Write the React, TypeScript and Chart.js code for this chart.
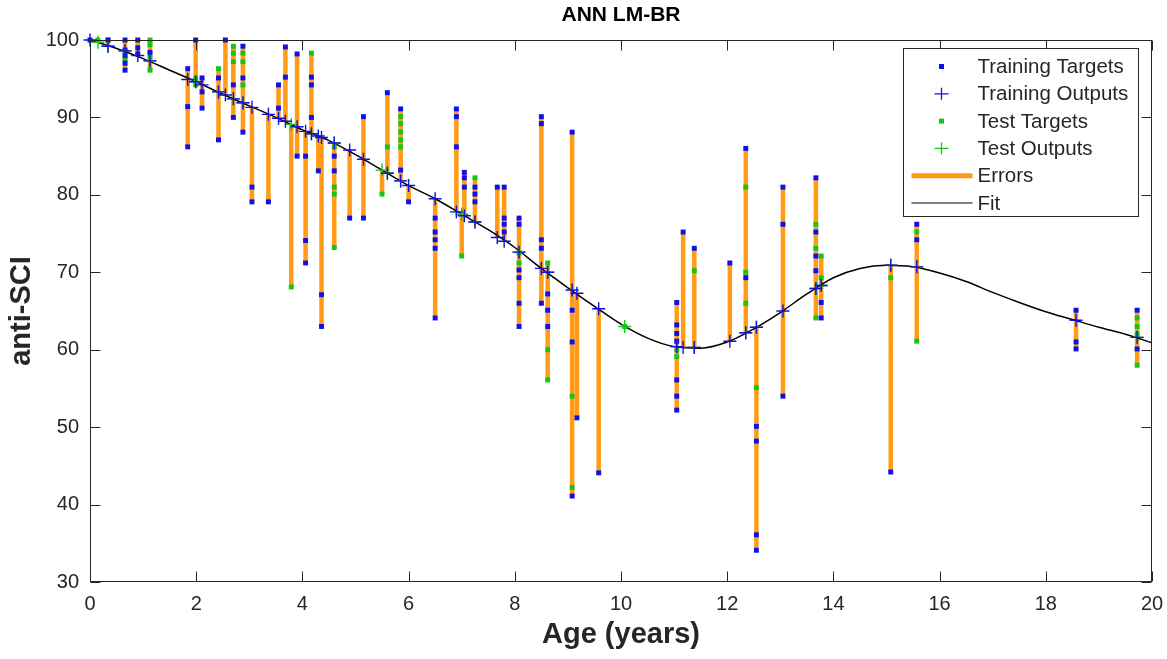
import React, { useEffect, useRef } from "react";
import { Chart, registerables } from "chart.js";

Chart.register(...registerables);

const FONT = "'Liberation Sans', Arial, Helvetica, sans-serif";

// Axis ticks
const xTicks = [0, 2, 4, 6, 8, 10, 12, 14, 16, 18, 20];
const yTicks = [30, 40, 50, 60, 70, 80, 90, 100];

// Fitted curve (age in years -> anti-SCI)
const fitAges = [0, 0.5, 1, 1.5, 2, 2.5, 3, 3.5, 4, 4.5, 5, 5.5, 6, 6.5, 7, 7.5, 8, 8.5, 9, 9.5, 10,
  10.5, 11, 11.5, 12, 12.5, 13, 13.5, 14, 14.5, 15, 15.5, 16, 16.5, 17, 17.5, 18, 18.5, 19, 19.5, 20];
const fitValues = [100, 98.9, 97.6, 96.1, 94.6, 93.0, 91.5, 90.0, 88.4, 87.0, 85.2, 83.2, 81.2, 79.5, 77.5,
  75.5, 73.2, 70.5, 68.0, 65.6, 63.3, 61.5, 60.4, 60.2, 61.0, 62.7, 64.8, 67.2, 69.3, 70.5, 70.9, 70.7,
  69.9, 68.8, 67.4, 66.1, 64.9, 63.9, 62.9, 62.0, 60.9];

// Sample groups: age, network output, training targets, test targets
const groupAges = [0.0, 0.15, 0.34, 0.66, 0.9, 1.13, 1.84, 1.99, 2.11, 2.42, 2.55, 2.7, 2.88, 3.05, 3.36,
  3.55, 3.68, 3.79, 3.9, 4.06, 4.17, 4.3, 4.36, 4.6, 4.89, 5.15, 5.5, 5.6, 5.85, 6.0, 6.5, 6.9, 7.0, 7.05,
  7.25, 7.67, 7.8, 8.08, 8.5, 8.62, 9.08, 9.17, 9.58, 10.07, 11.05, 11.17, 11.38, 12.05, 12.35, 12.55,
  13.05, 13.67, 13.77, 15.08, 15.57, 18.57, 19.72];
const groupOutputs = [100, 99.7, 99.2, 98.6, 98.0, 97.3, 94.9, 94.6, 94.2, 93.3, 92.9, 92.4, 91.9, 91.3, 90.4,
  89.9, 89.5, 89.1, 88.8, 88.2, 87.9, 87.6, 87.4, 86.7, 85.8, 84.6, 83.2, 82.8, 81.8, 81.2, 79.5, 77.8, 77.5,
  77.3, 76.5, 74.5, 74.0, 72.6, 70.5, 70.0, 67.7, 67.3, 65.3, 63.0, 60.4, 60.3, 60.3, 61.1, 62.2, 62.9,
  65.0, 67.9, 68.3, 70.9, 70.7, 63.8, 61.6];
const groupTrainTargets: number[][] = [
  [100], [], [100], [100, 98.7, 98, 97, 96.1], [100, 99, 98.2], [98.4], [96.3, 91.4, 86.2], [100],
  [95.1, 93.3, 91.2], [95.1, 87.1], [100], [94.2, 90], [99.2, 95.1, 88.1], [81, 79.1], [79.1],
  [94.2, 91.2], [99.1, 95.2], [], [98.2, 85], [85, 74.1, 71.2], [95.2, 94.2, 90], [83.1], [67.1, 63],
  [85, 83.1], [77], [90.1, 77], [], [93.2], [91.1, 83.2], [79.1], [77, 75.2, 74.2, 73.1, 64.1],
  [91.1, 90.1, 86.2], [], [82.9, 82.2, 81], [81, 80.1, 79.1], [81], [81, 77, 76.2, 75.2],
  [77, 76.2, 70.3, 69.3, 66, 63], [90.1, 89.2, 74.2, 73.1, 66], [67.2, 65.1, 63], [88.1, 65.1, 61, 41.1],
  [51.2], [44.1], [], [66.1, 63.2, 62.1, 61.1, 56.1, 54, 52.2], [75.2], [73.1], [71.2], [86, 69.3],
  [50.1, 48.2, 36.1, 34.1], [81, 76.2, 54], [82.2, 75.2, 72.1, 70.2], [66.1, 64.1], [44.2], [76.2, 74.2],
  [65.1, 61, 60.1], [65.1, 60.1],
];
const groupTestTargets: number[][] = [
  [], [100], [100], [97.6], [], [100, 99.4, 97.8, 96.1], [], [95, 94.2], [], [96.3], [], [99.2, 98.3, 97.2],
  [98.3, 97.2, 94.2], [], [], [], [], [68.1], [], [], [98.3], [], [], [86.2, 81, 80.1, 73.2], [], [], [80.1],
  [86.2], [90.1, 89.2, 88.1, 87.1, 86.2], [], [], [], [72.1], [], [82.2], [], [], [72.5, 71.2], [],
  [71.2, 60, 56.1], [54, 42.2], [], [], [63], [60, 59.1], [], [70.2], [], [81, 70, 66], [55.1], [],
  [76.2, 73.1, 64.1], [72.1, 69.3], [69.3], [75.2, 61.1], [], [64.1, 63, 62, 58],
];

const TITLE = "ANN LM-BR";
const BLUE = "rgb(16,16,232)";
const GREEN = "rgb(24,196,24)";
const ORANGE = "rgb(255,155,20)";
const AXIS = "#262626";

type Pt = { x: number; y: number | null };

const legendEntries = [
  { label: "Training Targets", kind: "square", color: BLUE },
  { label: "Training Outputs", kind: "plus", color: BLUE },
  { label: "Test Targets", kind: "square", color: GREEN },
  { label: "Test Outputs", kind: "plus", color: GREEN },
  { label: "Errors", kind: "thick", color: ORANGE },
  { label: "Fit", kind: "thin", color: "#000" },
];

const boxPlugin = {
  id: "matlabBox",
  afterDraw(chart: any) {
    const { ctx, chartArea: ca, scales } = chart;
    const xs = scales.x;
    const ys = scales.y;
    ctx.save();
    ctx.strokeStyle = AXIS;
    ctx.lineWidth = 1;
    const L = Math.round(ca.left) + 0.5;
    const R = Math.round(ca.right) - 0.5;
    const T = Math.round(ca.top) + 0.5;
    const B = Math.round(ca.bottom) - 0.5;
    ctx.strokeRect(L, T, R - L, B - T);
    const tl = 10;
    ctx.beginPath();
    xTicks.forEach((v) => {
      const px = Math.round(xs.getPixelForValue(v)) + 0.5;
      ctx.moveTo(px, B);
      ctx.lineTo(px, B - tl);
      ctx.moveTo(px, T);
      ctx.lineTo(px, T + tl);
    });
    yTicks.forEach((v) => {
      const py = Math.round(ys.getPixelForValue(v)) + 0.5;
      ctx.moveTo(L, py);
      ctx.lineTo(L + tl, py);
      ctx.moveTo(R, py);
      ctx.lineTo(R - tl, py);
    });
    ctx.stroke();

    // title centred over the axes
    ctx.fillStyle = "#000";
    ctx.font = `bold 21px ${FONT}`;
    ctx.textAlign = "center";
    ctx.textBaseline = "middle";
    ctx.fillText(TITLE, (ca.left + ca.right) / 2, 15);

    // legend box (inside axes, top-right)
    const lw = 235;
    const lh = 168;
    const lx = Math.round(ca.right) - 14 - lw + 0.5;
    const ly = Math.round(ca.top) + 8 + 0.5;
    ctx.fillStyle = "#fff";
    ctx.fillRect(lx, ly, lw, lh);
    ctx.strokeStyle = AXIS;
    ctx.lineWidth = 1;
    ctx.strokeRect(lx, ly, lw, lh);
    const rowH = 27.3;
    const mx = lx + 38;
    ctx.font = `20.5px ${FONT}`;
    ctx.textBaseline = "middle";
    ctx.textAlign = "left";
    legendEntries.forEach((e, i) => {
      const cy = ly + 18 + i * rowH;
      if (e.kind === "square") {
        ctx.fillStyle = e.color;
        ctx.fillRect(mx - 2.5, cy - 2.5, 5, 5);
      } else if (e.kind === "plus") {
        ctx.strokeStyle = e.color;
        ctx.lineWidth = 1.3;
        ctx.beginPath();
        ctx.moveTo(mx - 7, cy);
        ctx.lineTo(mx + 7, cy);
        ctx.moveTo(mx, cy - 6);
        ctx.lineTo(mx, cy + 6);
        ctx.stroke();
      } else {
        ctx.strokeStyle = e.color;
        ctx.lineWidth = e.kind === "thick" ? 5 : 1.2;
        ctx.beginPath();
        ctx.moveTo(lx + 8, cy);
        ctx.lineTo(lx + 69, cy);
        ctx.stroke();
      }
      ctx.fillStyle = AXIS;
      ctx.fillText(e.label, lx + 74, cy + 1);
    });
    ctx.restore();
  },
};

export default function App() {
  const ref = useRef<HTMLCanvasElement>(null);

  useEffect(() => {
    document.body.style.margin = "0";
    const trainTargetPts: Pt[] = [];
    const testTargetPts: Pt[] = [];
    const trainOutPts: Pt[] = [];
    const testOutPts: Pt[] = [];
    const errorPts: Pt[] = [];
    groupAges.forEach((a, i) => {
      const o = groupOutputs[i];
      groupTrainTargets[i].forEach((t) => {
        trainTargetPts.push({ x: a, y: t });
        errorPts.push({ x: a, y: o }, { x: a, y: t }, { x: a, y: null });
      });
      groupTestTargets[i].forEach((t) => {
        testTargetPts.push({ x: a, y: t });
        errorPts.push({ x: a, y: o }, { x: a, y: t }, { x: a, y: null });
      });
      if (groupTrainTargets[i].length) trainOutPts.push({ x: a, y: o });
      if (groupTestTargets[i].length) testOutPts.push({ x: a, y: o });
    });
    const fitPts = fitAges.map((a, i) => ({ x: a, y: fitValues[i] }));

    const chart = new Chart(ref.current as HTMLCanvasElement, {
      type: "scatter",
      data: {
        datasets: [
          {
            label: "Training Targets", data: trainTargetPts, order: 7, clip: 8,
            pointStyle: "rect", pointRadius: 3.5, pointBorderWidth: 0,
            backgroundColor: BLUE, borderColor: BLUE,
          },
          {
            label: "Training Outputs", data: trainOutPts, order: 5, clip: 8,
            pointStyle: "cross", pointRadius: 6.5, pointBorderWidth: 1.4,
            backgroundColor: BLUE, borderColor: BLUE,
          },
          {
            label: "Test Targets", data: testTargetPts, order: 8, clip: 8,
            pointStyle: "rect", pointRadius: 3.5, pointBorderWidth: 0,
            backgroundColor: GREEN, borderColor: GREEN,
          },
          {
            label: "Test Outputs", data: testOutPts, order: 6, clip: 8,
            pointStyle: "cross", pointRadius: 6.5, pointBorderWidth: 1.4,
            backgroundColor: GREEN, borderColor: GREEN,
          },
          {
            label: "Errors", data: errorPts, order: 10, showLine: true, spanGaps: false,
            pointRadius: 0, borderColor: ORANGE, borderWidth: 4.5, borderCapStyle: "butt",
          } as any,
          {
            label: "Fit", data: fitPts, order: 9, showLine: true,
            pointRadius: 0, borderColor: "#000", borderWidth: 1.5,
            cubicInterpolationMode: "monotone",
          } as any,
        ],
      },
      options: {
        responsive: false,
        animation: false,
        devicePixelRatio: 1,
        events: [],
        layout: { padding: { left: 0, right: 15, top: 40, bottom: 0 } },
        plugins: {
          legend: { display: false },
          tooltip: { enabled: false },
          title: { display: false },
        },
        scales: {
          x: {
            type: "linear",
            min: 0,
            max: 20,
            grid: { display: false, drawTicks: false },
            border: { display: false },
            ticks: {
              stepSize: 2,
              color: AXIS,
              padding: 10,
              font: { family: FONT, size: 20 },
            },
            title: {
              display: true,
              text: "Age (years)",
              color: AXIS,
              font: { family: FONT, size: 29, weight: "bold" },
              padding: { top: 0, bottom: 6.5 },
            },
            afterFit(scale: any) {
              scale.height = 77;
              scale.paddingLeft = 0;
              scale.paddingRight = 0;
            },
          },
          y: {
            type: "linear",
            min: 30,
            max: 100,
            grid: { display: false, drawTicks: false },
            border: { display: false },
            ticks: {
              stepSize: 10,
              color: AXIS,
              padding: 11,
              font: { family: FONT, size: 20 },
            },
            title: {
              display: true,
              text: "anti-SCI",
              color: AXIS,
              font: { family: FONT, size: 29, weight: "bold" },
              padding: { top: 4.5, bottom: 0 },
            },
            afterFit(scale: any) {
              scale.width = 90;
              scale.paddingTop = 0;
              scale.paddingBottom = 0;
            },
          },
        },
      } as any,
      plugins: [boxPlugin],
    });
    return () => chart.destroy();
  }, []);

  return (
    <div style={{ width: 1167, height: 659 }}>
      <canvas ref={ref} width={1167} height={659} style={{ display: "block" }} />
    </div>
  );
}
